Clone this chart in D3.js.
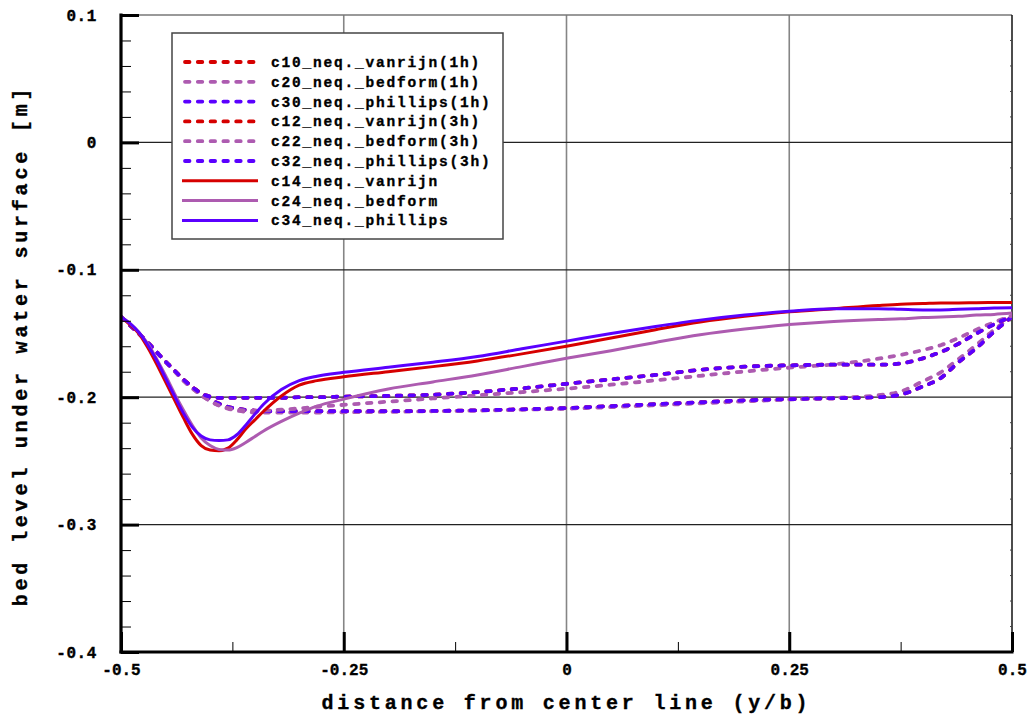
<!DOCTYPE html>
<html>
<head>
<meta charset="utf-8">
<script src="https://cdn.jsdelivr.net/npm/d3@7"></script>
<style>
  html, body { margin: 0; padding: 0; background: #fff; }
  svg { display: block; }
  text { font-family: "Liberation Mono", "DejaVu Sans Mono", monospace; font-weight: bold; fill: #000; stroke: #000; stroke-width: 0.35px; }
</style>
</head>
<body>
<svg id="chart" width="1034" height="720"></svg>
<script>
// Lateral position across the channel (y/b)
const xs = [-0.5,-0.49,-0.48,-0.47,-0.46,-0.45,-0.44,-0.43,-0.42,-0.41,-0.40,-0.39,-0.38,-0.37,-0.36,-0.35,-0.34,-0.32,-0.30,-0.28,-0.25,-0.2,-0.15,-0.1,-0.05,0,0.05,0.1,0.15,0.2,0.25,0.3,0.35,0.375,0.4,0.42,0.44,0.46,0.48,0.5];

// Bed level under water surface [m], one array per run
const c10 = [-0.137,-0.1435,-0.150,-0.157,-0.1645,-0.172,-0.179,-0.186,-0.192,-0.197,-0.2015,-0.205,-0.2075,-0.209,-0.210,-0.2105,-0.211,-0.211,-0.211,-0.211,-0.211,-0.211,-0.2108,-0.2103,-0.2095,-0.2085,-0.207,-0.2055,-0.204,-0.2025,-0.2015,-0.2008,-0.2,-0.198,-0.1915,-0.185,-0.1725,-0.1615,-0.1485,-0.137];
const c20 = [-0.137,-0.1435,-0.150,-0.157,-0.1645,-0.172,-0.1795,-0.187,-0.193,-0.1985,-0.203,-0.2065,-0.209,-0.2105,-0.2115,-0.212,-0.212,-0.212,-0.212,-0.212,-0.2118,-0.2115,-0.211,-0.2105,-0.2098,-0.209,-0.2078,-0.2063,-0.2048,-0.2033,-0.2018,-0.2005,-0.1985,-0.1955,-0.1875,-0.1805,-0.170,-0.159,-0.147,-0.137];
const c30 = [-0.137,-0.1435,-0.150,-0.157,-0.1645,-0.172,-0.179,-0.186,-0.192,-0.197,-0.2015,-0.205,-0.2075,-0.209,-0.210,-0.2105,-0.211,-0.211,-0.211,-0.211,-0.211,-0.211,-0.2108,-0.2103,-0.2095,-0.2085,-0.207,-0.2055,-0.204,-0.2025,-0.2015,-0.2008,-0.2,-0.198,-0.1915,-0.185,-0.1725,-0.1615,-0.1485,-0.137];
const c12 = [-0.137,-0.1435,-0.150,-0.157,-0.1645,-0.172,-0.179,-0.186,-0.192,-0.197,-0.1995,-0.2005,-0.2005,-0.2005,-0.2005,-0.2005,-0.2005,-0.2005,-0.2,-0.2,-0.1995,-0.199,-0.198,-0.196,-0.193,-0.1895,-0.186,-0.1825,-0.1785,-0.176,-0.175,-0.1745,-0.1745,-0.1735,-0.1695,-0.1645,-0.158,-0.150,-0.1428,-0.1365];
const c22 = [-0.137,-0.1435,-0.150,-0.157,-0.1645,-0.172,-0.1795,-0.187,-0.193,-0.1985,-0.203,-0.2065,-0.2085,-0.2098,-0.2105,-0.2107,-0.2105,-0.2098,-0.2088,-0.2075,-0.206,-0.2035,-0.201,-0.1985,-0.196,-0.1933,-0.1902,-0.1868,-0.1832,-0.1798,-0.1768,-0.1742,-0.1698,-0.1668,-0.163,-0.1592,-0.1535,-0.147,-0.1412,-0.136];
const c32 = [-0.137,-0.1435,-0.150,-0.157,-0.1645,-0.172,-0.179,-0.186,-0.192,-0.197,-0.1995,-0.2005,-0.2005,-0.2005,-0.2005,-0.2005,-0.2005,-0.2005,-0.2,-0.2,-0.1995,-0.199,-0.198,-0.196,-0.193,-0.1895,-0.186,-0.1825,-0.1785,-0.176,-0.175,-0.1745,-0.1745,-0.1735,-0.1695,-0.1645,-0.158,-0.150,-0.1428,-0.1365];
const c14 = [-0.137,-0.143,-0.150,-0.161,-0.174,-0.188,-0.202,-0.216,-0.229,-0.238,-0.2415,-0.242,-0.240,-0.2335,-0.225,-0.218,-0.211,-0.199,-0.1905,-0.187,-0.184,-0.180,-0.176,-0.1715,-0.166,-0.160,-0.1535,-0.147,-0.141,-0.1365,-0.133,-0.1305,-0.128,-0.127,-0.1265,-0.126,-0.126,-0.1258,-0.1257,-0.1256];
const c24 = [-0.137,-0.142,-0.149,-0.158,-0.170,-0.183,-0.197,-0.210,-0.222,-0.232,-0.238,-0.241,-0.2415,-0.2395,-0.2355,-0.231,-0.2265,-0.219,-0.2125,-0.207,-0.2015,-0.1935,-0.188,-0.1825,-0.176,-0.1695,-0.1635,-0.157,-0.151,-0.1465,-0.143,-0.1405,-0.139,-0.1385,-0.1375,-0.137,-0.1365,-0.1355,-0.135,-0.134];
const c34 = [-0.137,-0.142,-0.149,-0.159,-0.171,-0.185,-0.199,-0.2125,-0.2235,-0.2305,-0.2335,-0.234,-0.2335,-0.2295,-0.222,-0.2135,-0.2055,-0.194,-0.187,-0.1835,-0.1805,-0.1765,-0.1725,-0.168,-0.162,-0.156,-0.150,-0.1445,-0.1395,-0.1355,-0.1325,-0.1305,-0.1305,-0.131,-0.1315,-0.1315,-0.131,-0.1305,-0.130,-0.1298];

// Legend names in plotting order
const seriesNames = [
  "c10_neq._vanrijn(1h)", "c20_neq._bedform(1h)", "c30_neq._phillips(1h)",
  "c12_neq._vanrijn(3h)", "c22_neq._bedform(3h)", "c32_neq._phillips(3h)",
  "c14_neq._vanrijn", "c24_neq._bedform", "c34_neq._phillips"
];
const seriesValues = [c10, c20, c30, c12, c22, c32, c14, c24, c34];

// Axis ticks
const xTicks = [-0.5, -0.25, 0, 0.25, 0.5];
const xTickLabels = ["-0.5", "-0.25", "0", "0.25", "0.5"];
const xMinorTicks = [-0.375, -0.125, 0.125, 0.375];
const yTicks = [-0.4, -0.3, -0.2, -0.1, 0, 0.1];
const yTickLabels = ["-0.4", "-0.3", "-0.2", "-0.1", "0", "0.1"];
const yMinorTicks = d3.range(-0.38, 0.1, 0.02).filter(v => Math.abs(v * 10 - Math.round(v * 10)) > 1e-6);

// Line styles per model family
const red = "#d60000", purple = "#ad5bb0", blue = "#5a00ff";
const styleOf = name => {
  const color = name.includes("vanrijn") ? red : name.includes("bedform") ? purple : blue;
  const dashed = name.includes("h)");
  return { color, dashed };
};

const svg = d3.select("#chart");
const L = 121, R = 1012, T = 15, B = 652;
const x = d3.scaleLinear().domain([-0.5, 0.5]).range([L, R]);
const y = d3.scaleLinear().domain([-0.4, 0.1]).range([B, T]);

// Grid
svg.append("g").selectAll("line").data([-0.25, 0, 0.25]).join("line")
  .attr("x1", d => x(d)).attr("x2", d => x(d)).attr("y1", T).attr("y2", B)
  .attr("stroke", "#858585").attr("stroke-width", 1.6);
svg.append("g").selectAll("line").data([0, -0.1, -0.2, -0.3]).join("line")
  .attr("x1", L).attr("x2", R).attr("y1", d => y(d)).attr("y2", d => y(d))
  .attr("stroke", "#222").attr("stroke-width", 1.3);
// top and right frame
svg.append("line").attr("x1", L).attr("x2", R).attr("y1", T).attr("y2", T)
  .attr("stroke", "#777").attr("stroke-width", 1.5);
svg.append("line").attr("x1", R).attr("x2", R).attr("y1", T).attr("y2", B)
  .attr("stroke", "#111").attr("stroke-width", 1.5);
// small mirror ticks on the right edge
svg.append("g").selectAll("line").data(yMinorTicks).join("line")
  .attr("x1", R - 2).attr("x2", R).attr("y1", d => y(d)).attr("y2", d => y(d))
  .attr("stroke", "#444").attr("stroke-width", 1);

// Curves
const plot = svg.append("g");
svg.append("clipPath").attr("id", "clip").append("rect")
  .attr("x", L).attr("y", T).attr("width", R - L).attr("height", B - T);
plot.attr("clip-path", "url(#clip)");
const line = d3.line().x(d => x(d[0])).y(d => y(d[1])).curve(d3.curveMonotoneX);
seriesNames.forEach((name, i) => {
  const st = styleOf(name);
  plot.append("path")
    .datum(xs.map((v, j) => [v, seriesValues[i][j]]))
    .attr("d", line)
    .attr("fill", "none")
    .attr("stroke", st.color)
    .attr("stroke-width", st.dashed ? 3.8 : 3)
    .attr("stroke-linecap", st.dashed ? "round" : "butt")
    .attr("stroke-linejoin", "round")
    .attr("stroke-dasharray", st.dashed ? "4.5,8.3" : null);
});

// Axes
const fmtX = d => xTickLabels[xTicks.indexOf(d)];
const fmtY = d => yTickLabels[yTicks.findIndex(v => Math.abs(v - d) < 1e-9)];

const xAxisMinor = svg.append("g").attr("transform", `translate(0,${B})`)
  .call(d3.axisBottom(x).tickValues(xMinorTicks).tickSize(-10).tickSizeOuter(0).tickFormat(""));
xAxisMinor.select(".domain").remove();
xAxisMinor.selectAll(".tick line").attr("stroke", "#000").attr("stroke-width", 1);

const xAxis = svg.append("g").attr("transform", `translate(0,${B})`)
  .call(d3.axisBottom(x).tickValues(xTicks).tickSize(-20).tickSizeOuter(0).tickPadding(12).tickFormat(fmtX));
xAxis.select(".domain").attr("stroke", "#000").attr("stroke-width", 3.2).attr("d", `M${L - 1.5},0H${R + 1.5}`);
xAxis.selectAll(".tick line").attr("stroke", "#000").attr("stroke-width", 3);
xAxis.selectAll(".tick text").style("font-size", "16px").attr("font-family", null);

const yAxisMinor = svg.append("g").attr("transform", `translate(${L},0)`)
  .call(d3.axisLeft(y).tickValues(yMinorTicks).tickSize(-10).tickSizeOuter(0).tickFormat(""));
yAxisMinor.select(".domain").remove();
yAxisMinor.selectAll(".tick line").attr("stroke", "#000").attr("stroke-width", 1);

const yAxis = svg.append("g").attr("transform", `translate(${L},0)`)
  .call(d3.axisLeft(y).tickValues(yTicks).tickSize(-18).tickSizeOuter(0).tickPadding(24).tickFormat(fmtY));
yAxis.select(".domain").attr("stroke", "#000").attr("stroke-width", 3.2).attr("d", `M0,${T - 1.5}V${B + 1.5}`);
yAxis.selectAll(".tick line").attr("stroke", "#000").attr("stroke-width", 3);
yAxis.selectAll(".tick text").style("font-size", "16px").style("letter-spacing", "0.6px").attr("font-family", null);

// Axis titles
svg.append("text")
  .attr("x", (L + R) / 2).attr("y", 709)
  .attr("text-anchor", "middle")
  .style("font-size", "20px").style("letter-spacing", "3.8px")
  .text("distance from center line (y/b)");
svg.append("text")
  .attr("transform", `translate(27,${(T + B) / 2 + 12}) rotate(-90)`)
  .attr("text-anchor", "middle")
  .style("font-size", "20px").style("letter-spacing", "3.8px")
  .text("bed level under water surface [m]");

// Legend
const lg = svg.append("g");
lg.append("rect").attr("x", 172).attr("y", 33).attr("width", 331).attr("height", 206)
  .attr("fill", "#fff").attr("stroke", "#444").attr("stroke-width", 1.5);
seriesNames.forEach((name, i) => {
  const st = styleOf(name);
  const yy = 62 + i * 19.8;
  lg.append("line")
    .attr("x1", st.dashed ? 185 : 182).attr("x2", st.dashed ? 256 : 258)
    .attr("y1", yy).attr("y2", yy)
    .attr("stroke", st.color)
    .attr("stroke-width", st.dashed ? 3.8 : 3)
    .attr("stroke-linecap", st.dashed ? "round" : "butt")
    .attr("stroke-dasharray", st.dashed ? "4.5,8.3" : null);
  lg.append("text")
    .attr("x", 271).attr("y", yy + 5)
    .style("font-size", "14.5px").style("letter-spacing", "1.8px")
    .text(name);
});
</script>
</body>
</html>
